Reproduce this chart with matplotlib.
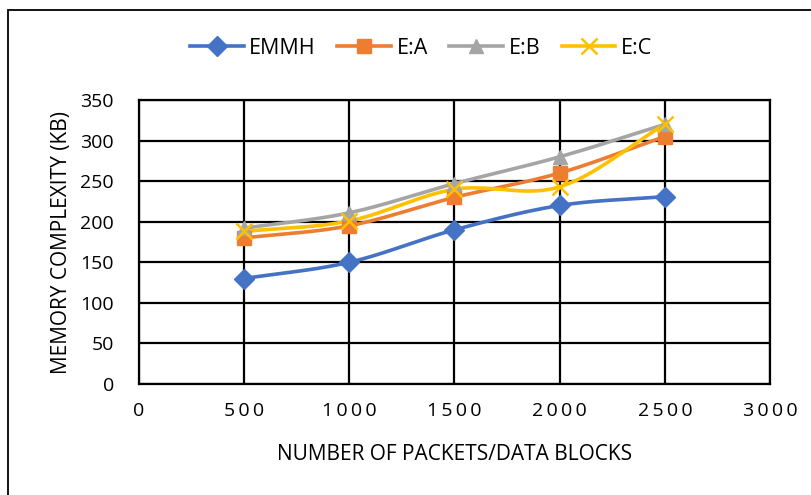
import numpy as np
import matplotlib
matplotlib.use("Agg")
import matplotlib.pyplot as plt
from matplotlib.patches import Rectangle

plt.rcParams['font.family'] = ['Open Sans', 'DejaVu Sans']

# packets / data blocks vs memory (KB)
packets = [500, 1000, 1500, 2000, 2500]
emmh = [130, 150, 190, 220, 231]
e_a = [180, 195, 230, 260, 305]
e_b = [192, 211, 247, 280, 320]
e_c = [188, 201, 240, 243, 320]

series_names = ["EMMH", "E:A", "E:B", "E:C"]
series_colors = ["#4472C4", "#ED7D31", "#A5A5A5", "#FFC000"]
series_markers = ["D", "s", "^", "x"]

x_ticks = list(range(0, 3001, 500))
y_ticks = list(range(0, 351, 50))


def smooth(xs, ys, n=40):
    # Bezier curve through the points, control points like Excel's smoothed line
    x = np.asarray(xs, float) / 3000.0
    y = np.asarray(ys, float) / 350.0 * 0.45
    px = np.concatenate([[2 * x[0] - x[1]], x, [2 * x[-1] - x[-2]]])
    py = np.concatenate([[2 * y[0] - y[1]], y, [2 * y[-1] - y[-2]]])
    outx, outy = [], []
    for i in range(1, len(px) - 2):
        t = np.linspace(0, 1, n)
        for arr, out in ((px, outx), (py, outy)):
            p0, p1, p2, p3 = arr[i - 1], arr[i], arr[i + 1], arr[i + 2]
            c1 = p1 + (p2 - p0) / 6.0
            c2 = p2 - (p3 - p1) / 6.0
            out.extend((1 - t) ** 3 * p1 + 3 * (1 - t) ** 2 * t * c1
                       + 3 * (1 - t) * t ** 2 * c2 + t ** 3 * p2)
    return np.array(outx) * 3000.0, np.array(outy) / 0.45 * 350.0


fig = plt.figure(figsize=(8.12, 4.95), dpi=100)
ax = fig.add_axes([139 / 812, 1 - 384 / 495, 631 / 812, 284 / 495])

# outer chart border
fig.patches.append(Rectangle((8.5 / 812, -0.1), 1.2, 1 - 10 / 495 + 0.1,
                             transform=fig.transFigure, fill=False,
                             edgecolor="black", linewidth=1.3))

handles = []
for vals, name, col, mk in zip([emmh, e_a, e_b, e_c], series_names,
                               series_colors, series_markers):
    sx, sy = smooth(packets, vals)
    ms = 10 if mk != "x" else 11
    mew = 1.8 if mk == "x" else 1
    ax.plot(sx, sy, color=col, linewidth=2.6, zorder=3, solid_capstyle="round")
    ax.plot(packets, vals, linestyle="none", marker=mk, color=col,
            markersize=ms, markeredgewidth=mew, zorder=4)
    h, = ax.plot([], [], color=col, linewidth=2.6, marker=mk, markersize=ms,
                 markeredgewidth=mew)
    handles.append(h)

ax.set_xlim(0, 3000)
ax.set_ylim(0, 350)
ax.set_xticks(x_ticks)
ax.set_yticks(y_ticks)
ax.set_xticklabels(["\u2009".join(str(v)) for v in x_ticks])
ax.grid(True, color="black", linewidth=1.6)
ax.set_axisbelow(True)
for s in ax.spines.values():
    s.set_linewidth(1.6)
ax.tick_params(axis="x", length=0, labelsize=14, pad=13)
ax.tick_params(axis="y", length=0, labelsize=14, pad=18)
ax.set_xlabel("NUMBER OF PACKETS/DATA BLOCKS", fontsize=15, labelpad=17)
ax.set_ylabel("MEMORY COMPLEXITY (KB)", fontsize=15, labelpad=6)

fig.legend(handles, series_names, loc="center", bbox_to_anchor=(421 / 812, 1 - 48 / 495),
           ncol=4, frameon=False, fontsize=15.5, handlelength=2.5,
           columnspacing=1.0, handletextpad=0.25)

fig.savefig("out.png", dpi=100)
